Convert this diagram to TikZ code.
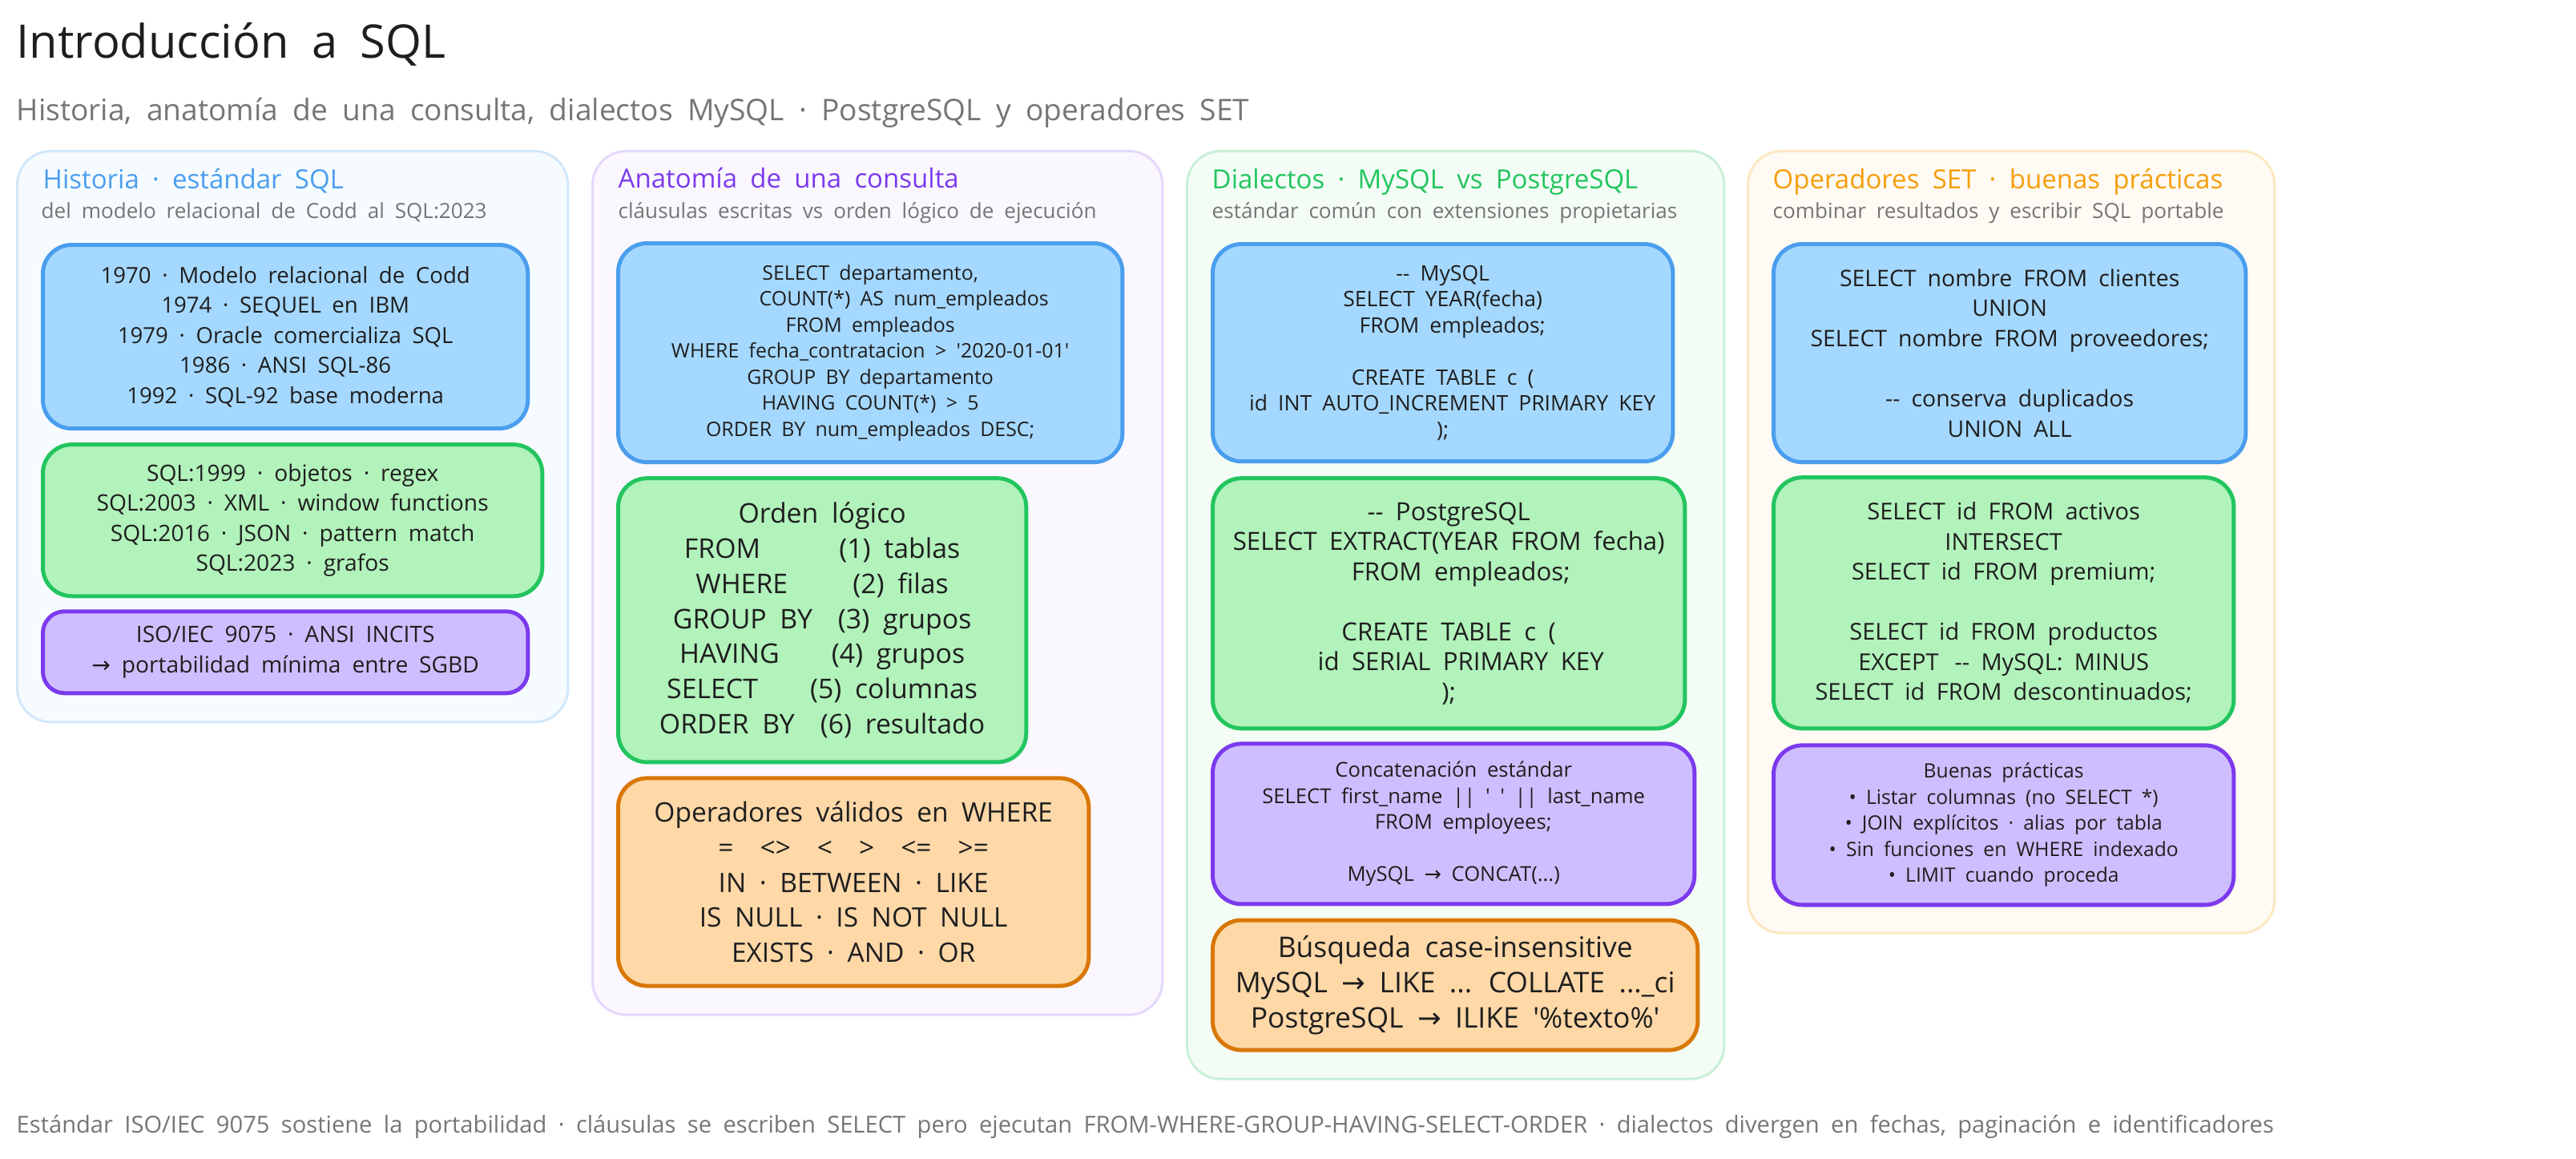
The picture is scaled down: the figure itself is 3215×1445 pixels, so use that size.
\documentclass[tikz,border=0pt]{standalone}
\usepackage{fontspec}
\setmainfont{Open Sans}[WordSpace=1.9]
\newfontfamily\arrowfont{DejaVu Sans}
\usetikzlibrary{calc, positioning}
\definecolor{skyFill}{HTML}{A5D8FF}
\definecolor{skyLine}{HTML}{4A9EED}
\definecolor{mintFill}{HTML}{B2F2BB}
\definecolor{mintLine}{HTML}{22C55E}
\definecolor{lilacFill}{HTML}{CFBEFF}
\definecolor{lilacLine}{HTML}{7C3AED}
\definecolor{peachFill}{HTML}{FFD8A8}
\definecolor{peachLine}{HTML}{D97706}
\definecolor{amberText}{HTML}{F59E0B}
\definecolor{inkText}{HTML}{1E1E1E}
\definecolor{grayText}{HTML}{757575}
\newcommand{\hand}[2]{\fontsize{\fpeval{#1*0.2845*0.92*#2}pt}{\fpeval{#1*0.2845*1.25}pt}\selectfont}
\newcommand{\flecha}{{\arrowfont →}}
\tikzstyle{panelBox} = [shape=rectangle, anchor=north west, line width=0.03cm, rounded corners=0.42cm, inner sep=0]
\tikzstyle{cardBox} = [shape=rectangle, anchor=north west, line width=0.05cm, rounded corners=0.36cm,
	align=center, inner sep=0, text=inkText]
\tikzstyle{blueBox} = [cardBox, draw=skyLine, fill=skyFill]
\tikzstyle{greenBox} = [cardBox, draw=mintLine, fill=mintFill]
\tikzstyle{purpleBox} = [cardBox, draw=lilacLine, fill=lilacFill]
\tikzstyle{orangeBox} = [cardBox, draw=peachLine, fill=peachFill]
\tikzstyle{headLabel} = [anchor=base west, inner sep=0, font=\hand{32}{1.12}]
\tikzstyle{subLabel} = [anchor=base west, inner sep=0, font=\hand{26}{1.09}, text=grayText]

\begin{document}
\begin{tikzpicture}[x=0.01cm, y=-0.01cm]
  \useasboundingbox (0,0) rectangle (3215,1445);

  \node (TITLE) [anchor=base west, inner sep=0, text=inkText, font=\hand{56}{1.12}] at (20,72) {Introducción a SQL};
  \node (SUBT)  [anchor=base west, inner sep=0, text=grayText, font=\hand{36}{1.12}] at (20,150)
    {Historia, anatomía de una consulta, dialectos MySQL · PostgreSQL y operadores SET};

  % columna 1
  \node (HIST) [panelBox, draw=skyLine!25, fill=skyFill!10, minimum width=6.87cm, minimum height=7.12cm] at (20,187) {};
  \node (HISTh) [headLabel, text=skyLine] at (53,235) {Historia · estándar SQL};
  \node (HISTs) [subLabel] at (51,272) {del modelo relacional de Codd al SQL:2023};
  \node (HISTa) [blueBox, minimum width=6.05cm, minimum height=2.29cm, font=\hand{30}{1}] at (51,303)
    {1970 · Modelo relacional de Codd\\1974 · SEQUEL en IBM\\1979 · Oracle comercializa SQL\\1986 · ANSI SQL-86\\1992 · SQL-92 base moderna};
  \node (HISTb) [greenBox, minimum width=6.23cm, minimum height=1.89cm, font=\hand{30}{1.02},
    below=0.15cm of HISTa.south west, anchor=north west]
    {SQL:1999 · objetos · regex\\SQL:2003 · XML · window functions\\SQL:2016 · JSON · pattern match\\SQL:2023 · grafos};
  \node (HISTc) [purpleBox, minimum width=6.05cm, minimum height=1.02cm, rounded corners=0.27cm, font=\hand{30}{1.02},
    below=0.14cm of HISTb.south west, anchor=north west]
    {ISO/IEC 9075 · ANSI INCITS\\\flecha{} portabilidad mínima entre SGBD};

  % columna 2
  \node (ANAT) [panelBox, draw=lilacLine!20, fill=lilacLine!4, minimum width=7.11cm, minimum height=10.77cm] at (738,187) {};
  \node (ANATh) [headLabel, text=lilacLine] at (771,234) {Anatomía de una consulta};
  \node (ANATs) [subLabel] at (771,272) {cláusulas escritas vs orden lógico de ejecución};
  \node (ANATa) [blueBox, minimum width=6.29cm, minimum height=2.73cm, font=\hand{26}{1.04}] at (769,301)
    {SELECT departamento,\\\hspace*{0.84cm}COUNT(*) AS num\_empleados\\FROM empleados\\WHERE fecha\_contratacion > \textquotesingle 2020-01-01\textquotesingle\\GROUP BY departamento\\HAVING COUNT(*) > 5\\ORDER BY num\_empleados DESC;};
  \node (ANATb) [greenBox, minimum width=5.09cm, minimum height=3.54cm, font=\hand{35}{1.05},
    below=0.15cm of ANATa.south west, anchor=north west]
    {Orden lógico\\FROM\hspace{0.98cm}(1) tablas\\WHERE\hspace{0.81cm}(2) filas\\GROUP BY\hspace{0.32cm}(3) grupos\\HAVING\hspace{0.65cm}(4) grupos\\SELECT\hspace{0.65cm}(5) columnas\\ORDER BY\hspace{0.32cm}(6) resultado};
  \node (ANATc) [orangeBox, minimum width=5.87cm, minimum height=2.59cm, font=\hand{35}{1.04},
    below=0.15cm of ANATb.south west, anchor=north west]
    {Operadores válidos en WHERE\\=\hspace{0.33cm}<>\hspace{0.33cm}<\hspace{0.33cm}>\hspace{0.33cm}<=\hspace{0.33cm}>=\\IN · BETWEEN · LIKE\\IS NULL · IS NOT NULL\\EXISTS · AND · OR};

  % columna 3
  \node (DIAL) [panelBox, draw=mintLine!25, fill=mintFill!15, minimum width=6.7cm, minimum height=11.57cm] at (1480,187) {};
  \node (DIALh) [headLabel, text=mintLine] at (1512,235) {Dialectos · MySQL vs PostgreSQL};
  \node (DIALs) [subLabel] at (1512,272) {estándar común con extensiones propietarias};
  \node (DIALa) [blueBox, minimum width=5.74cm, minimum height=2.71cm, font=\hand{26}{1.11}] at (1511,302)
    {-{}- MySQL\\SELECT YEAR(fecha)\\\hspace*{0.24cm}FROM empleados;\\~\\CREATE TABLE c (\\\hspace*{0.24cm}id INT AUTO\_INCREMENT PRIMARY KEY\\);};
  \node (DIALb) [greenBox, minimum width=5.89cm, minimum height=3.12cm, font=\hand{30}{1.13},
    below=0.16cm of DIALa.south west, anchor=north west]
    {-{}- PostgreSQL\\SELECT EXTRACT(YEAR FROM fecha)\\\hspace*{0.3cm}FROM empleados;\\~\\CREATE TABLE c (\\\hspace*{0.3cm}id SERIAL PRIMARY KEY\\);};
  \node (DIALc) [purpleBox, minimum width=6.01cm, minimum height=2cm, font=\hand{26}{1.07},
    below=0.14cm of DIALb.south west, anchor=north west]
    {Concatenación estándar\\SELECT first\_name || \textquotesingle{} \textquotesingle{} || last\_name\\\hspace*{0.24cm}FROM employees;\\~\\MySQL \flecha{} CONCAT(...)};
  \node (DIALd) [orangeBox, minimum width=6.05cm, minimum height=1.62cm, font=\hand{35}{1.1},
    below=0.15cm of DIALc.south west, anchor=north west]
    {Búsqueda case-insensitive\\MySQL \flecha{} LIKE ... COLLATE ...\_ci\\PostgreSQL \flecha{} ILIKE \textquotesingle\%texto\%\textquotesingle};

  % columna 4
  \node (OPER) [panelBox, draw=amberText!25, fill=amberText!5, minimum width=6.57cm, minimum height=9.75cm] at (2180,187) {};
  \node (OPERh) [headLabel, text=amberText] at (2212,235) {Operadores SET · buenas prácticas};
  \node (OPERs) [subLabel] at (2212,272) {combinar resultados y escribir SQL portable};
  \node (OPERa) [blueBox, minimum width=5.89cm, minimum height=2.72cm, font=\hand{30}{1.03}] at (2211,302)
    {SELECT nombre FROM clientes\\UNION\\SELECT nombre FROM proveedores;\\~\\-{}- conserva duplicados\\UNION ALL};
  \node (OPERb) [greenBox, minimum width=5.74cm, minimum height=3.13cm, font=\hand{30}{1.05},
    below=0.14cm of OPERa.south west, anchor=north west]
    {SELECT id FROM activos\\INTERSECT\\SELECT id FROM premium;\\~\\SELECT id FROM productos\\EXCEPT\hspace{0.2cm}-{}- MySQL: MINUS\\SELECT id FROM descontinuados;};
  \node (OPERc) [purpleBox, minimum width=5.74cm, minimum height=1.99cm, font=\hand{26}{1.03},
    below=0.16cm of OPERb.south west, anchor=north west]
    {Buenas prácticas\\• Listar columnas (no SELECT *)\\• JOIN explícitos · alias por tabla\\• Sin funciones en WHERE indexado\\• LIMIT cuando proceda};

  \node (FOOT) [anchor=base west, inner sep=0, text=grayText, font=\hand{28}{1.13}] at (20,1413)
    {Estándar ISO/IEC 9075 sostiene la portabilidad · cláusulas se escriben SELECT pero ejecutan FROM-WHERE-GROUP-HAVING-SELECT-ORDER · dialectos divergen en fechas, paginación e identificadores};

\end{tikzpicture}
\end{document}
